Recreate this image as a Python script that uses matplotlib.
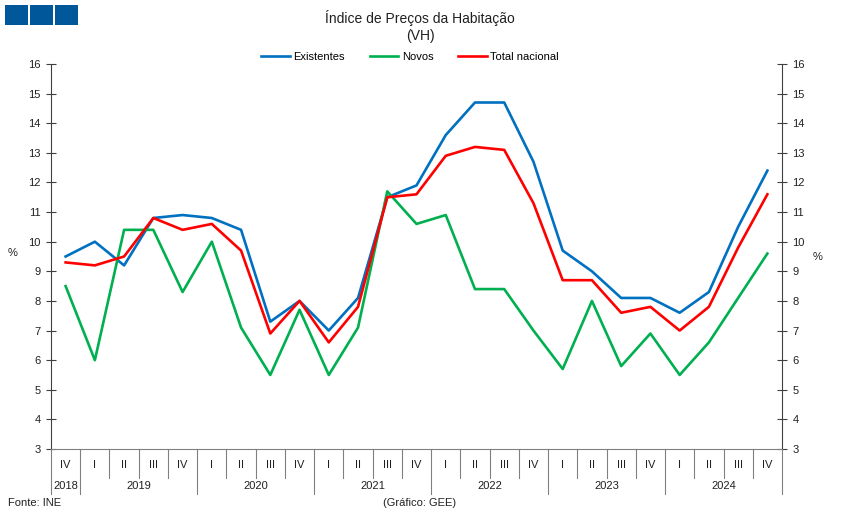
import numpy as np
import matplotlib.pyplot as plt
from matplotlib.patches import Rectangle
import matplotlib.transforms as mtransforms

plt.rcParams['font.family'] = ['Liberation Sans', 'DejaVu Sans']

# quarters 2018Q4 .. 2024Q4
quarters = ['IV'] + ['I', 'II', 'III', 'IV'] * 6
years = ['2018', '2019', '2020', '2021', '2022', '2023', '2024']
year_len = [1, 4, 4, 4, 4, 4, 4]

existentes = [9.5,
              10.0, 9.2, 10.8, 10.9,
              10.8, 10.4, 7.3, 8.0,
              7.0, 8.1, 11.5, 11.9,
              13.6, 14.7, 14.7, 12.7,
              9.7, 9.0, 8.1, 8.1,
              7.6, 8.3, 10.5, 12.4]
novos = [8.5,
         6.0, 10.4, 10.4, 8.3,
         10.0, 7.1, 5.5, 7.7,
         5.5, 7.1, 11.7, 10.6,
         10.9, 8.4, 8.4, 7.0,
         5.7, 8.0, 5.8, 6.9,
         5.5, 6.6, 8.1, 9.6]
total = [9.3,
         9.2, 9.5, 10.8, 10.4,
         10.6, 9.7, 6.9, 8.0,
         6.6, 7.8, 11.5, 11.6,
         12.9, 13.2, 13.1, 11.3,
         8.7, 8.7, 7.6, 7.8,
         7.0, 7.8, 9.8, 11.6]

W, H = 843, 518
fig = plt.figure(figsize=(W / 100, H / 100), dpi=100)
ax = fig.add_axes([51 / W, 1 - 449 / H, (782 - 51) / W, (449 - 64) / H])

x = np.arange(len(quarters))
ax.plot(x, existentes, color='#0070C0', lw=1.9, label='Existentes')
ax.plot(x, novos, color='#00B050', lw=1.9, label='Novos')
ax.plot(x, total, color='#FF0000', lw=1.9, label='Total nacional')

ax.set_xlim(-0.5, len(quarters) - 0.5)
ax.set_ylim(3, 16)
ax.set_yticks(range(3, 17))
ax.set_xticks([])

spine_col = '#808080'
ax.spines['top'].set_visible(False)
ax.spines['bottom'].set_color(spine_col)
ax.spines['left'].set_color('#404040')
ax.spines['right'].set_color('#404040')

ax.tick_params(axis='y', direction='inout', length=7, width=0.8, color='#404040',
               labelsize=8, labelcolor='#202020', pad=4,
               left=True, right=True, labelleft=True, labelright=True)

# category separators under the axis
trans = mtransforms.blended_transform_factory(ax.transData, ax.transAxes)
q_depth = -(478 - 449) / (449 - 64)
y_depth = -(494 - 449) / (449 - 64)
for i, q in enumerate(quarters):
    ax.text(i, -(465 - 449) / (449 - 64), q, transform=trans, ha='center', va='center',
            fontsize=8, color='#202020')
bounds = np.cumsum([0] + year_len) - 0.5
for b in np.arange(-0.5, len(quarters)):
    d = y_depth if b in bounds else q_depth
    ax.plot([b, b], [0, d], transform=trans, color=spine_col, lw=0.8, clip_on=False)
for k, yr in enumerate(years):
    c = (bounds[k] + bounds[k + 1]) / 2
    ax.text(c, -(486 - 449) / (449 - 64), yr, transform=trans, ha='center', va='center',
            fontsize=8, color='#202020')

fig.text(13 / W, 1 - 253 / H, '%', ha='center', va='center', fontsize=8, color='#202020')
fig.text(818 / W, 1 - 257 / H, '%', ha='center', va='center', fontsize=8, color='#202020')

fig.text(420 / W, 1 - 18 / H, 'Índice de Preços da Habitação', ha='center', va='center',
         fontsize=10, color='#202020')
fig.text(420 / W, 1 - 36 / H, '(VH)', ha='center', va='center', fontsize=10, color='#202020')

fig.legend(loc='center', bbox_to_anchor=(410 / W, 1 - 57 / H), ncol=3, frameon=False,
           fontsize=8, handlelength=2.6, handletextpad=0.3, columnspacing=2.2)

fig.text(8 / W, 1 - 503 / H, 'Fonte: INE', ha='left', va='center', fontsize=8, color='#202020')
fig.text(420 / W, 1 - 503 / H, '(Gráfico: GEE)', ha='center', va='center', fontsize=8,
         color='#202020')

# logo squares
for x0 in [5, 30, 55]:
    fig.patches.append(Rectangle((x0 / W, 1 - 25 / H), 23 / W, 20 / H, lw=0,
                                 transform=fig.transFigure, facecolor='#00589B'))

fig.savefig('out.png', dpi=100)
